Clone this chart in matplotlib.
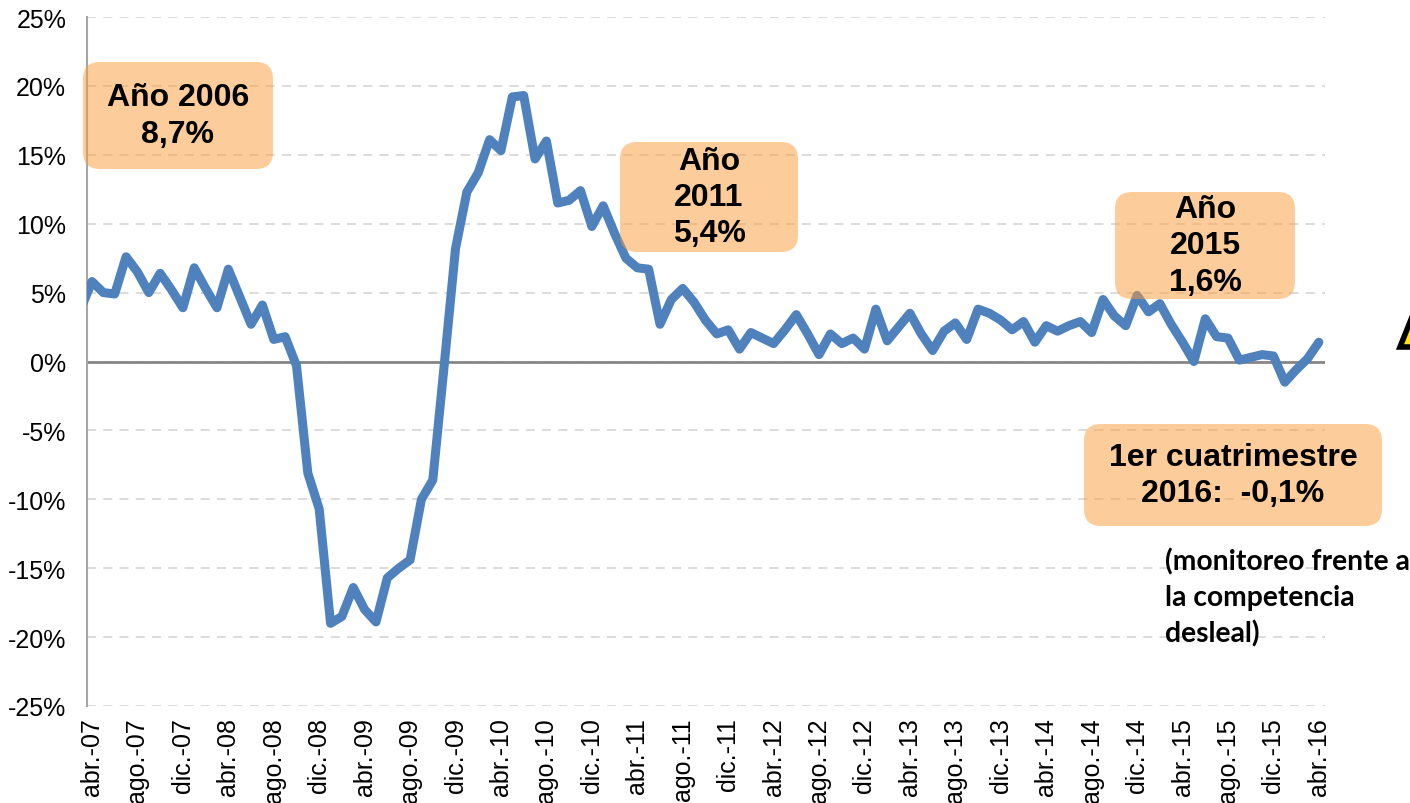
import matplotlib.pyplot as plt
import numpy as np
from matplotlib.patches import FancyBboxPatch, Polygon

# monthly variation (%), mar-07 .. abr-16
values = [3.8,
          5.8, 5.0, 4.9, 7.6, 6.5, 5.0, 6.4, 5.2, 3.9, 6.8, 5.3, 3.9,
          6.7, 4.7, 2.7, 4.1, 1.6, 1.8, -0.3, -8.1, -10.7, -19.0, -18.5, -16.4,
          -18.0, -18.9, -15.7, -15.0, -14.4, -10.0, -8.6, -0.3, 8.2, 12.3, 13.7, 16.1,
          15.3, 19.2, 19.3, 14.7, 16.0, 11.5, 11.7, 12.4, 9.8, 11.3, 9.3, 7.5,
          6.8, 6.7, 2.7, 4.5, 5.3, 4.3, 3.0, 2.0, 2.3, 0.9, 2.1, 1.7,
          1.3, 2.3, 3.4, 2.0, 0.5, 2.0, 1.3, 1.7, 0.9, 3.8, 1.5, 2.5,
          3.5, 2.0, 0.8, 2.2, 2.8, 1.6, 3.8, 3.5, 3.0, 2.3, 2.9, 1.4,
          2.6, 2.2, 2.6, 2.9, 2.1, 4.5, 3.3, 2.6, 4.8, 3.6, 4.2, 2.7,
          1.4, 0.0, 3.1, 1.8, 1.7, 0.1, 0.3, 0.5, 0.4, -1.5, -0.6, 0.2,
          1.4]
months = np.arange(-1, len(values) - 1)

tick_labels = ['abr.-07', 'ago.-07', 'dic.-07', 'abr.-08', 'ago.-08', 'dic.-08',
               'abr.-09', 'ago.-09', 'dic.-09', 'abr.-10', 'ago.-10', 'dic.-10',
               'abr.-11', 'ago.-11', 'dic.-11', 'abr.-12', 'ago.-12', 'dic.-12',
               'abr.-13', 'ago.-13', 'dic.-13', 'abr.-14', 'ago.-14', 'dic.-14',
               'abr.-15', 'ago.-15', 'dic.-15', 'abr.-16']
y_ticks = [-25, -20, -15, -10, -5, 0, 5, 10, 15, 20, 25]
y_labels = [f'{v}%' for v in y_ticks]

# annotation boxes: (text, left, top, width, height) in pixels
boxes = [('Año 2006\n8,7%', 83, 63, 190, 107),
         ('Año\n2011\n5,4%', 620, 143, 178, 110),
         ('Año\n2015\n1,6%', 1115, 193, 180, 107),
         ('1er cuatrimestre\n2016:  -0,1%', 1084, 425, 298, 102)]
note = '(monitoreo frente a\nla competencia\ndesleal)'

W, H = 1410, 804
fig = plt.figure(figsize=(W / 100, H / 100), dpi=100)
ax = fig.add_axes([87 / W, 1 - 707 / H, (1325 - 87) / W, (707 - 18) / H])

ax.plot(months, values, color='#4F81BD', lw=6.5, solid_joinstyle='round',
        solid_capstyle='round', zorder=3)
ax.axhline(0, color='#868686', lw=2, zorder=2)

ax.set_xlim(-0.44, 108.54)
ax.set_ylim(-25, 25)
ax.set_xticks(np.arange(0, 4 * len(tick_labels), 4))
ax.set_xticklabels(tick_labels, rotation=90, fontsize=18, family='Liberation Sans')
ax.set_yticks(y_ticks)
ax.set_yticklabels(y_labels, fontsize=18, family='Liberation Sans')
ax.tick_params(axis='both', length=0)
ax.tick_params(axis='y', pad=15)
ax.tick_params(axis='x', pad=8)
ax.grid(axis='y', color='#D9D9D9', lw=1.3, linestyle=(0, (5, 4)), zorder=1)
for s in ['top', 'right', 'bottom']:
    ax.spines[s].set_visible(False)
ax.spines['left'].set_color('#A6A6A6')
ax.spines['left'].set_linewidth(1.5)

for txt, x0, y0, w, h in boxes:
    patch = FancyBboxPatch((x0 / 100, (H - y0 - h) / 100), w / 100, h / 100,
                           boxstyle='round,pad=0,rounding_size=0.17',
                           transform=fig.dpi_scale_trans, facecolor='#FB9B37',
                           edgecolor='none', alpha=0.5, zorder=4)
    fig.add_artist(patch)
    fig.text((x0 + w / 2) / W, 1 - (y0 + h / 2) / H, txt, ha='center', va='center',
             fontsize=23, fontweight='bold', family='Liberation Sans',
             linespacing=1.27, zorder=5)

fig.text(1165 / W, 1 - 598 / H, note, ha='left', va='center', fontsize=20.3,
         fontweight='bold', family='Lato', linespacing=1.45)

# clipped warning sign at the right edge
tri = Polygon([(1400 / W, 1 - 348 / H), (1420 / W, 1 - 298 / H), (1440 / W, 1 - 348 / H)],
              closed=True, transform=fig.transFigure, facecolor='#FFE600',
              edgecolor='black', lw=4)
fig.add_artist(tri)

fig.savefig('out.png', dpi=100)
